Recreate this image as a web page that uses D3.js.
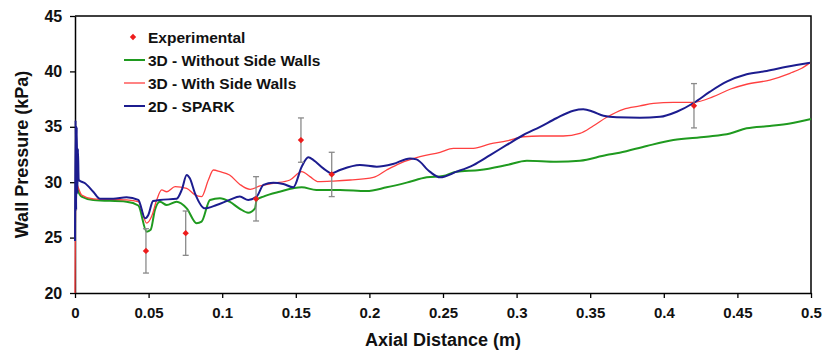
<!DOCTYPE html>
<html>
<head>
<meta charset="utf-8">
<script src="https://cdn.jsdelivr.net/npm/d3@7"></script>
<style>
  html, body { margin: 0; padding: 0; background: #fff; }
  svg { display: block; font-family: "Liberation Sans", Arial, sans-serif; }
</style>
</head>
<body>
<svg id="chart" width="823" height="350"></svg>
<script>
// Measured wall pressure (kPa) against axial distance (m), with ±2 kPa uncertainty
const expX = [0.0482, 0.0752, 0.123, 0.1535, 0.1744, 0.4205];
const expP = [23.8, 25.4, 28.5, 33.8, 30.7, 36.9];
const expErr = [2, 2, 2, 2, 2, 2];

// 3D - Without Side Walls
const noWalls = [
  [0.0008, 30.0], [0.002, 29.3], [0.0045, 28.7], [0.0124, 28.4], [0.035, 28.24],
  [0.043, 27.9], [0.0487, 25.53], [0.0514, 25.7], [0.0543, 27.5], [0.0577, 28.24],
  [0.0623, 27.94], [0.069, 28.24], [0.0759, 27.64], [0.0826, 26.3], [0.086, 26.44],
  [0.0917, 28.4], [0.0985, 28.55], [0.105, 28.24], [0.112, 27.6], [0.1177, 27.25],
  [0.1223, 27.64], [0.1234, 28.4], [0.128, 28.7], [0.139, 29.14], [0.154, 29.54],
  [0.164, 29.3], [0.18, 29.3], [0.198, 29.2], [0.2117, 29.54], [0.2253, 29.96],
  [0.239, 30.44], [0.25, 30.56], [0.259, 30.95], [0.275, 31.1], [0.2933, 31.55],
  [0.307, 31.94], [0.327, 31.85], [0.343, 31.94], [0.361, 32.45], [0.37, 32.66],
  [0.3884, 33.27], [0.4065, 33.8], [0.429, 34.1], [0.445, 34.4], [0.4563, 34.86],
  [0.472, 35.07], [0.4857, 35.3], [0.5, 35.7]
];

// 3D - With Side Walls
const withWalls = [
  [0, 20], [0.0006, 30.1], [0.002, 29.6], [0.0045, 28.85], [0.0124, 28.5],
  [0.035, 28.4], [0.043, 28.24], [0.0487, 26.3], [0.052, 26.9], [0.0555, 28.4],
  [0.0589, 29.3], [0.0623, 29.14], [0.068, 29.6], [0.0759, 29.45], [0.0815, 28.85],
  [0.086, 28.7], [0.0906, 30.2], [0.094, 31.1], [0.0985, 30.95], [0.105, 30.65],
  [0.112, 29.8], [0.119, 29.35], [0.1257, 29.66], [0.1347, 29.9], [0.146, 30.2],
  [0.154, 30.95], [0.1596, 30.5], [0.1653, 30.05], [0.1755, 30.1], [0.187, 30.2],
  [0.2027, 30.44], [0.2117, 31.1], [0.2208, 31.7], [0.2344, 32.3], [0.248, 32.7],
  [0.257, 33.06], [0.2706, 33.06], [0.282, 33.45], [0.2933, 33.72], [0.3046, 34.1],
  [0.316, 34.17], [0.3317, 34.17], [0.343, 34.4], [0.352, 35.07], [0.3612, 35.86],
  [0.3725, 36.58], [0.3838, 36.88], [0.393, 37.12], [0.4065, 37.21], [0.4205, 37.21],
  [0.4336, 37.72], [0.445, 38.39], [0.4563, 38.84], [0.472, 39.22], [0.4857, 39.83],
  [0.4937, 40.28], [0.4993, 40.79]
];

// 2D - SPARK
const spark = [
  [0, 24.7], [0.0004, 35.6], [0.0008, 27.5], [0.0012, 35.0], [0.0016, 29.0],
  [0.002, 33.0], [0.0025, 30.2], [0.0068, 29.9], [0.0124, 29.14], [0.017, 28.5],
  [0.026, 28.5], [0.035, 28.64], [0.043, 28.4], [0.0476, 26.74], [0.0498, 27.04],
  [0.053, 28.3], [0.0577, 28.4], [0.069, 28.5], [0.0725, 29.3], [0.0759, 30.65],
  [0.078, 30.35], [0.0815, 29.0], [0.0883, 27.64], [0.0962, 27.94], [0.105, 28.4],
  [0.112, 28.7], [0.1177, 28.4], [0.1234, 28.7], [0.128, 29.75], [0.1347, 29.96],
  [0.1415, 29.84], [0.1483, 29.54], [0.154, 31.4], [0.1585, 32.25], [0.162, 32.0],
  [0.1687, 31.25], [0.1744, 30.8], [0.18, 31.1], [0.1936, 31.55], [0.205, 31.4],
  [0.216, 31.64], [0.2276, 32.15], [0.232, 32.06], [0.241, 30.95], [0.248, 30.44],
  [0.2593, 30.95], [0.2706, 31.55], [0.282, 32.45], [0.2933, 33.36], [0.3046, 34.26],
  [0.316, 35.0], [0.327, 35.77], [0.3385, 36.45], [0.3453, 36.58], [0.352, 36.36],
  [0.359, 36.0], [0.368, 35.86], [0.3838, 35.82], [0.3974, 35.9], [0.4088, 36.36],
  [0.4205, 37.17], [0.4314, 38.17], [0.4427, 39.07], [0.4563, 39.74], [0.4699, 40.04],
  [0.4835, 40.42], [0.4993, 40.79]
];

const xTicks = [0, 0.05, 0.1, 0.15, 0.2, 0.25, 0.3, 0.35, 0.4, 0.45, 0.5];
const yTicks = [20, 25, 30, 35, 40, 45];

const seriesNames = ["Experimental", "3D - Without Side Walls", "3D - With Side Walls", "2D - SPARK"];
const colors = { exp: "#ee1c1c", green: "#1f9a1f", red: "#ff4040", blue: "#1c1c8f" };

const svg = d3.select("#chart");
const margin = { left: 75, right: 12, top: 16, bottom: 57 };
const W = 823, H = 350;
const x = d3.scaleLinear().domain([0, 0.5]).range([margin.left, W - margin.right]);
const y = d3.scaleLinear().domain([20, 45]).range([H - margin.bottom, margin.top]);

// Frame (top and right edges)
svg.append("path")
  .attr("d", `M${x(0)},${y(45)}H${x(0.5)}V${y(20)}`)
  .attr("fill", "none").attr("stroke", "#000").attr("stroke-width", 1.5);

// Axes
const xAxis = svg.append("g")
  .attr("transform", `translate(0,${y(20)})`)
  .call(d3.axisBottom(x).tickValues(xTicks).tickSize(5).tickSizeOuter(0).tickFormat(d => d3.format("")(d)));
const yAxis = svg.append("g")
  .attr("transform", `translate(${x(0)},0)`)
  .call(d3.axisLeft(y).tickValues(yTicks).tickSize(5).tickSizeOuter(0));

[xAxis, yAxis].forEach(g => {
  g.select(".domain").attr("stroke", "#000").attr("stroke-width", 1.5);
  g.selectAll(".tick line").attr("stroke", "#000").attr("stroke-width", 1.3);
  g.selectAll(".tick text").attr("fill", "#111").attr("font-weight", "bold")
    .attr("font-family", "'Liberation Sans', Arial, sans-serif");
});
xAxis.selectAll(".tick text").attr("font-size", 15).attr("dy", "1.1em");
yAxis.selectAll(".tick text").attr("font-size", 16).attr("dx", "-0.3em");

// Axis titles
svg.append("text")
  .attr("x", (x(0) + x(0.5)) / 2).attr("y", 346)
  .attr("text-anchor", "middle").attr("font-size", 18).attr("font-weight", "bold").attr("fill", "#111")
  .text("Axial Distance (m)");
svg.append("text")
  .attr("transform", `translate(28,${(y(20) + y(45)) / 2}) rotate(-90)`)
  .attr("text-anchor", "middle").attr("font-size", 18).attr("font-weight", "bold").attr("fill", "#111")
  .text("Wall Pressure (kPa)");

// Simulation curves
const line = d3.line().x(d => x(d[0])).y(d => y(d[1])).curve(d3.curveMonotoneX);
const plot = svg.append("g");
plot.append("path").datum(noWalls).attr("d", line)
  .attr("fill", "none").attr("stroke", colors.green).attr("stroke-width", 2);
plot.append("path").datum(withWalls).attr("d", line)
  .attr("fill", "none").attr("stroke", colors.red).attr("stroke-width", 1.3);
plot.append("path").datum(spark).attr("d", line)
  .attr("fill", "none").attr("stroke", colors.blue).attr("stroke-width", 2);

// Experimental points with error bars
const expData = expX.map((v, i) => ({ x: v, p: expP[i], e: expErr[i] }));
const bars = plot.selectAll(".err").data(expData).enter().append("g");
bars.append("line")
  .attr("x1", d => x(d.x)).attr("x2", d => x(d.x))
  .attr("y1", d => y(d.p + d.e)).attr("y2", d => y(d.p - d.e))
  .attr("stroke", "#8a8a8a").attr("stroke-width", 1.3);
[1, -1].forEach(s => {
  bars.append("line")
    .attr("x1", d => x(d.x) - 3).attr("x2", d => x(d.x) + 3)
    .attr("y1", d => y(d.p + s * d.e)).attr("y2", d => y(d.p + s * d.e))
    .attr("stroke", "#8a8a8a").attr("stroke-width", 1.3);
});
// Square diamond marker (a square turned 45°)
const diamond = d3.symbol().type(d3.symbolSquare).size(20);
bars.append("path").attr("d", diamond)
  .attr("transform", d => `translate(${x(d.x)},${y(d.p)}) rotate(45)`)
  .attr("fill", colors.exp);

// Legend
const legend = svg.append("g").attr("font-size", 15.5).attr("font-weight", "bold").attr("fill", "#111");
const rowY = [37, 60, 83, 106];
legend.append("path").attr("d", diamond).attr("transform", `translate(133,${rowY[0]}) rotate(45)`).attr("fill", colors.exp);
[[colors.green, 2], [colors.red, 1.3], [colors.blue, 2]].forEach((c, i) => {
  legend.append("line").attr("x1", 124).attr("x2", 145)
    .attr("y1", rowY[i + 1]).attr("y2", rowY[i + 1])
    .attr("stroke", c[0]).attr("stroke-width", c[1]);
});
seriesNames.forEach((n, i) => {
  legend.append("text").attr("x", 148).attr("y", rowY[i]).attr("dy", "0.36em").text(n);
});
</script>
</body>
</html>
